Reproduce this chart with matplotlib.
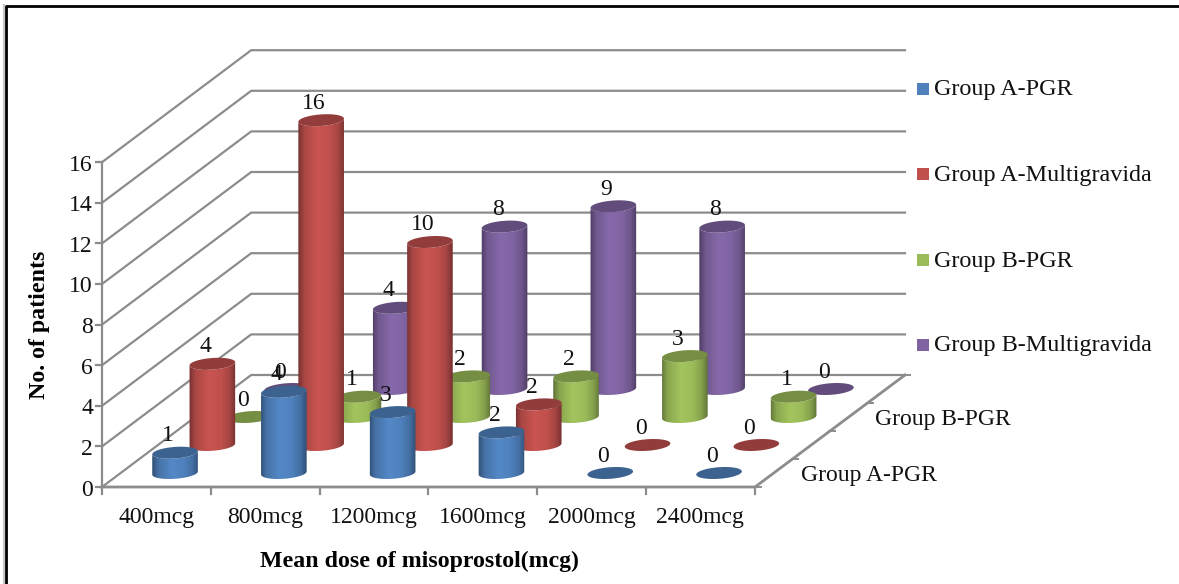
import numpy as np
import matplotlib
matplotlib.use("Agg")
import matplotlib.pyplot as plt
from matplotlib.colors import to_rgb, LinearSegmentedColormap
from matplotlib.patches import Polygon, Rectangle

categories = ['400mcg', '800mcg', '1200mcg', '1600mcg', '2000mcg', '2400mcg']
series_names = ['Group A-PGR', 'Group A-Multigravida', 'Group B-PGR', 'Group B-Multigravida']
depth_labels = ['Group A-PGR', 'Group B-PGR']
yticks = [0, 2, 4, 6, 8, 10, 12, 14, 16]

group_a_pgr = [1, 4, 3, 2, 0, 0]
group_a_multi = [4, 16, 10, 2, 0, 0]
group_b_pgr = [0, 1, 2, 2, 3, 1]
group_b_multi = [0, 4, 8, 9, 8, 0]

colors = ['#4f81bd', '#c0504d', '#9bbb59', '#8064a2']
all_values = [group_a_pgr, group_a_multi, group_b_pgr, group_b_multi]

# oblique projection, everything in pixels of the 1179x584 picture
X0, Y0 = 102, 487
CAT_W = 108.8
DEPTH_X, DEPTH_Y = 37.3, 28.0
UNIT = 20.3
GRID = '#8c8c8c'
FONT = 'Liberation Serif'
TXT = '#111111'
RX, SHEAR, RY = 22.0, 6.0, 6.0


def project(cat, depth, value=0):
    return X0 + cat * CAT_W + depth * DEPTH_X, Y0 - depth * DEPTH_Y - value * UNIT


def ellipse(cx, cy, t):
    # circle lying in the floor plane, that is why it looks tilted
    return cx + RX * np.cos(t) + SHEAR * np.sin(t), cy - RY * np.sin(t)


def shade(color):
    rgb = np.array(to_rgb(color))
    dark = rgb * 0.62
    light = np.minimum(rgb * 1.05, 1)
    stops = [(0, dark), (0.13, rgb * 0.88), (0.42, light), (0.68, rgb), (0.87, rgb * 0.86), (1, dark)]
    return LinearSegmentedColormap.from_list('c', stops)


def draw_cylinder(ax, cx, cy, value, color, z):
    top_y = cy - value * UNIT
    t = np.linspace(0, 2 * np.pi, 80)
    rgb = np.array(to_rgb(color))
    if value > 0:
        start = np.arctan2(SHEAR, RX)
        lo = np.linspace(start + np.pi, start + 2 * np.pi, 40)
        xb, yb = ellipse(cx, cy, lo)
        up = lo[::-1]
        xt, yt = ellipse(cx, top_y, up)
        body = Polygon(np.column_stack([np.r_[xb, xt], np.r_[yb, yt]]), closed=True, transform=ax.transData,
                       fc='none', ec='none')
        ax.add_patch(body)
        im = ax.imshow(np.linspace(0, 1, 64).reshape(1, -1), cmap=shade(color), aspect='auto',
                       extent=(cx - 23.5, cx + 23.5, cy + 8, top_y - 8), zorder=z, interpolation='bilinear')
        im.set_clip_path(body)
    x, y = ellipse(cx, top_y, t)
    ax.fill(x, y, color=rgb * 0.76, lw=0, zorder=z + 0.1)


fig = plt.figure(figsize=(11.79, 5.84), dpi=100)
ax = fig.add_axes([0, 0, 1, 1])

# walls: gridlines go along the side wall and then the back wall
for v in yticks:
    x1, y1 = project(0, 0, v)
    x2, y2 = project(0, 4, v)
    ax.plot([x1, x2, 905], [y1, y2, y2], color=GRID, lw=1.6, zorder=1, solid_joinstyle='miter')
    ax.plot([x1 - 6, x1], [y1, y1], color=GRID, lw=1.6, zorder=1)
    ax.text(x1 - 9, y1 + 3, str(v), ha='right', va='center', fontsize=17, family=FONT, color=TXT)
ax.plot([X0, X0], [Y0, Y0 - 16 * UNIT], color=GRID, lw=1.6, zorder=1)

# floor
ax.plot([X0, 755, 905], [Y0, Y0, Y0 - 4 * DEPTH_Y], color=GRID, lw=2, zorder=1)
for i in range(len(categories) + 1):
    x, y = project(i, 0)
    ax.plot([x, x], [y, y + 7], color=GRID, lw=1.6, zorder=1)
for i, name in enumerate(categories):
    x, y = project(i + 0.5, 0)
    ax.text(x, 518, name, ha='center', va='center', fontsize=17, family=FONT, color=TXT)
for k in range(5):
    x, y = project(6, k)
    ax.plot([x, x + 6], [y, y], color=GRID, lw=1.4, zorder=1)
ax.text(869, 476, depth_labels[0], ha='center', va='center', fontsize=17, family=FONT, color=TXT)
ax.text(943, 419, depth_labels[1], ha='center', va='center', fontsize=17, family=FONT, color=TXT)

# bars from the back row to the front row
z = 2
for k in range(3, -1, -1):
    for c in range(len(categories)):
        cx, cy = project(c + 0.5, k + 0.5)
        draw_cylinder(ax, cx, cy, all_values[k][c], colors[k], z)
        z += 1

for k in range(4):
    for c in range(len(categories)):
        cx, cy = project(c + 0.5, k + 0.5, all_values[k][c])
        ax.text(cx - 7, cy - 17, str(all_values[k][c]), ha='center', va='center', fontsize=17,
                family=FONT, color=TXT, zorder=200)

# legend, done by hand because it sits between the gridline ends
legend_y = [89, 174, 260, 345]
for name, col, ly in zip(series_names, colors, legend_y):
    ax.add_patch(Rectangle((917, ly - 6), 12, 12, fc=col, ec='none', zorder=5))
    ax.text(934, ly + 1, name, ha='left', va='center', fontsize=17.4, family=FONT, color=TXT)

ax.text(419, 561, 'Mean dose of misoprostol(mcg)', ha='center', va='center', fontsize=17.2,
        family=FONT, weight='bold', color='black')
ax.text(40, 325, 'No. of patients', ha='center', va='center', rotation=90, fontsize=17.2,
        family=FONT, weight='bold', color='black')

# outer frame, only top and left show in the crop
ax.plot([4, 4], [584, 5], color='#c8c8c8', lw=1.5, zorder=299)
ax.plot([6, 6, 1179], [584, 6, 6], color='black', lw=2, zorder=300)

ax.set_xlim(0, 1179)
ax.set_ylim(584, 0)
ax.axis('off')
fig.savefig('out.png', dpi=100)
